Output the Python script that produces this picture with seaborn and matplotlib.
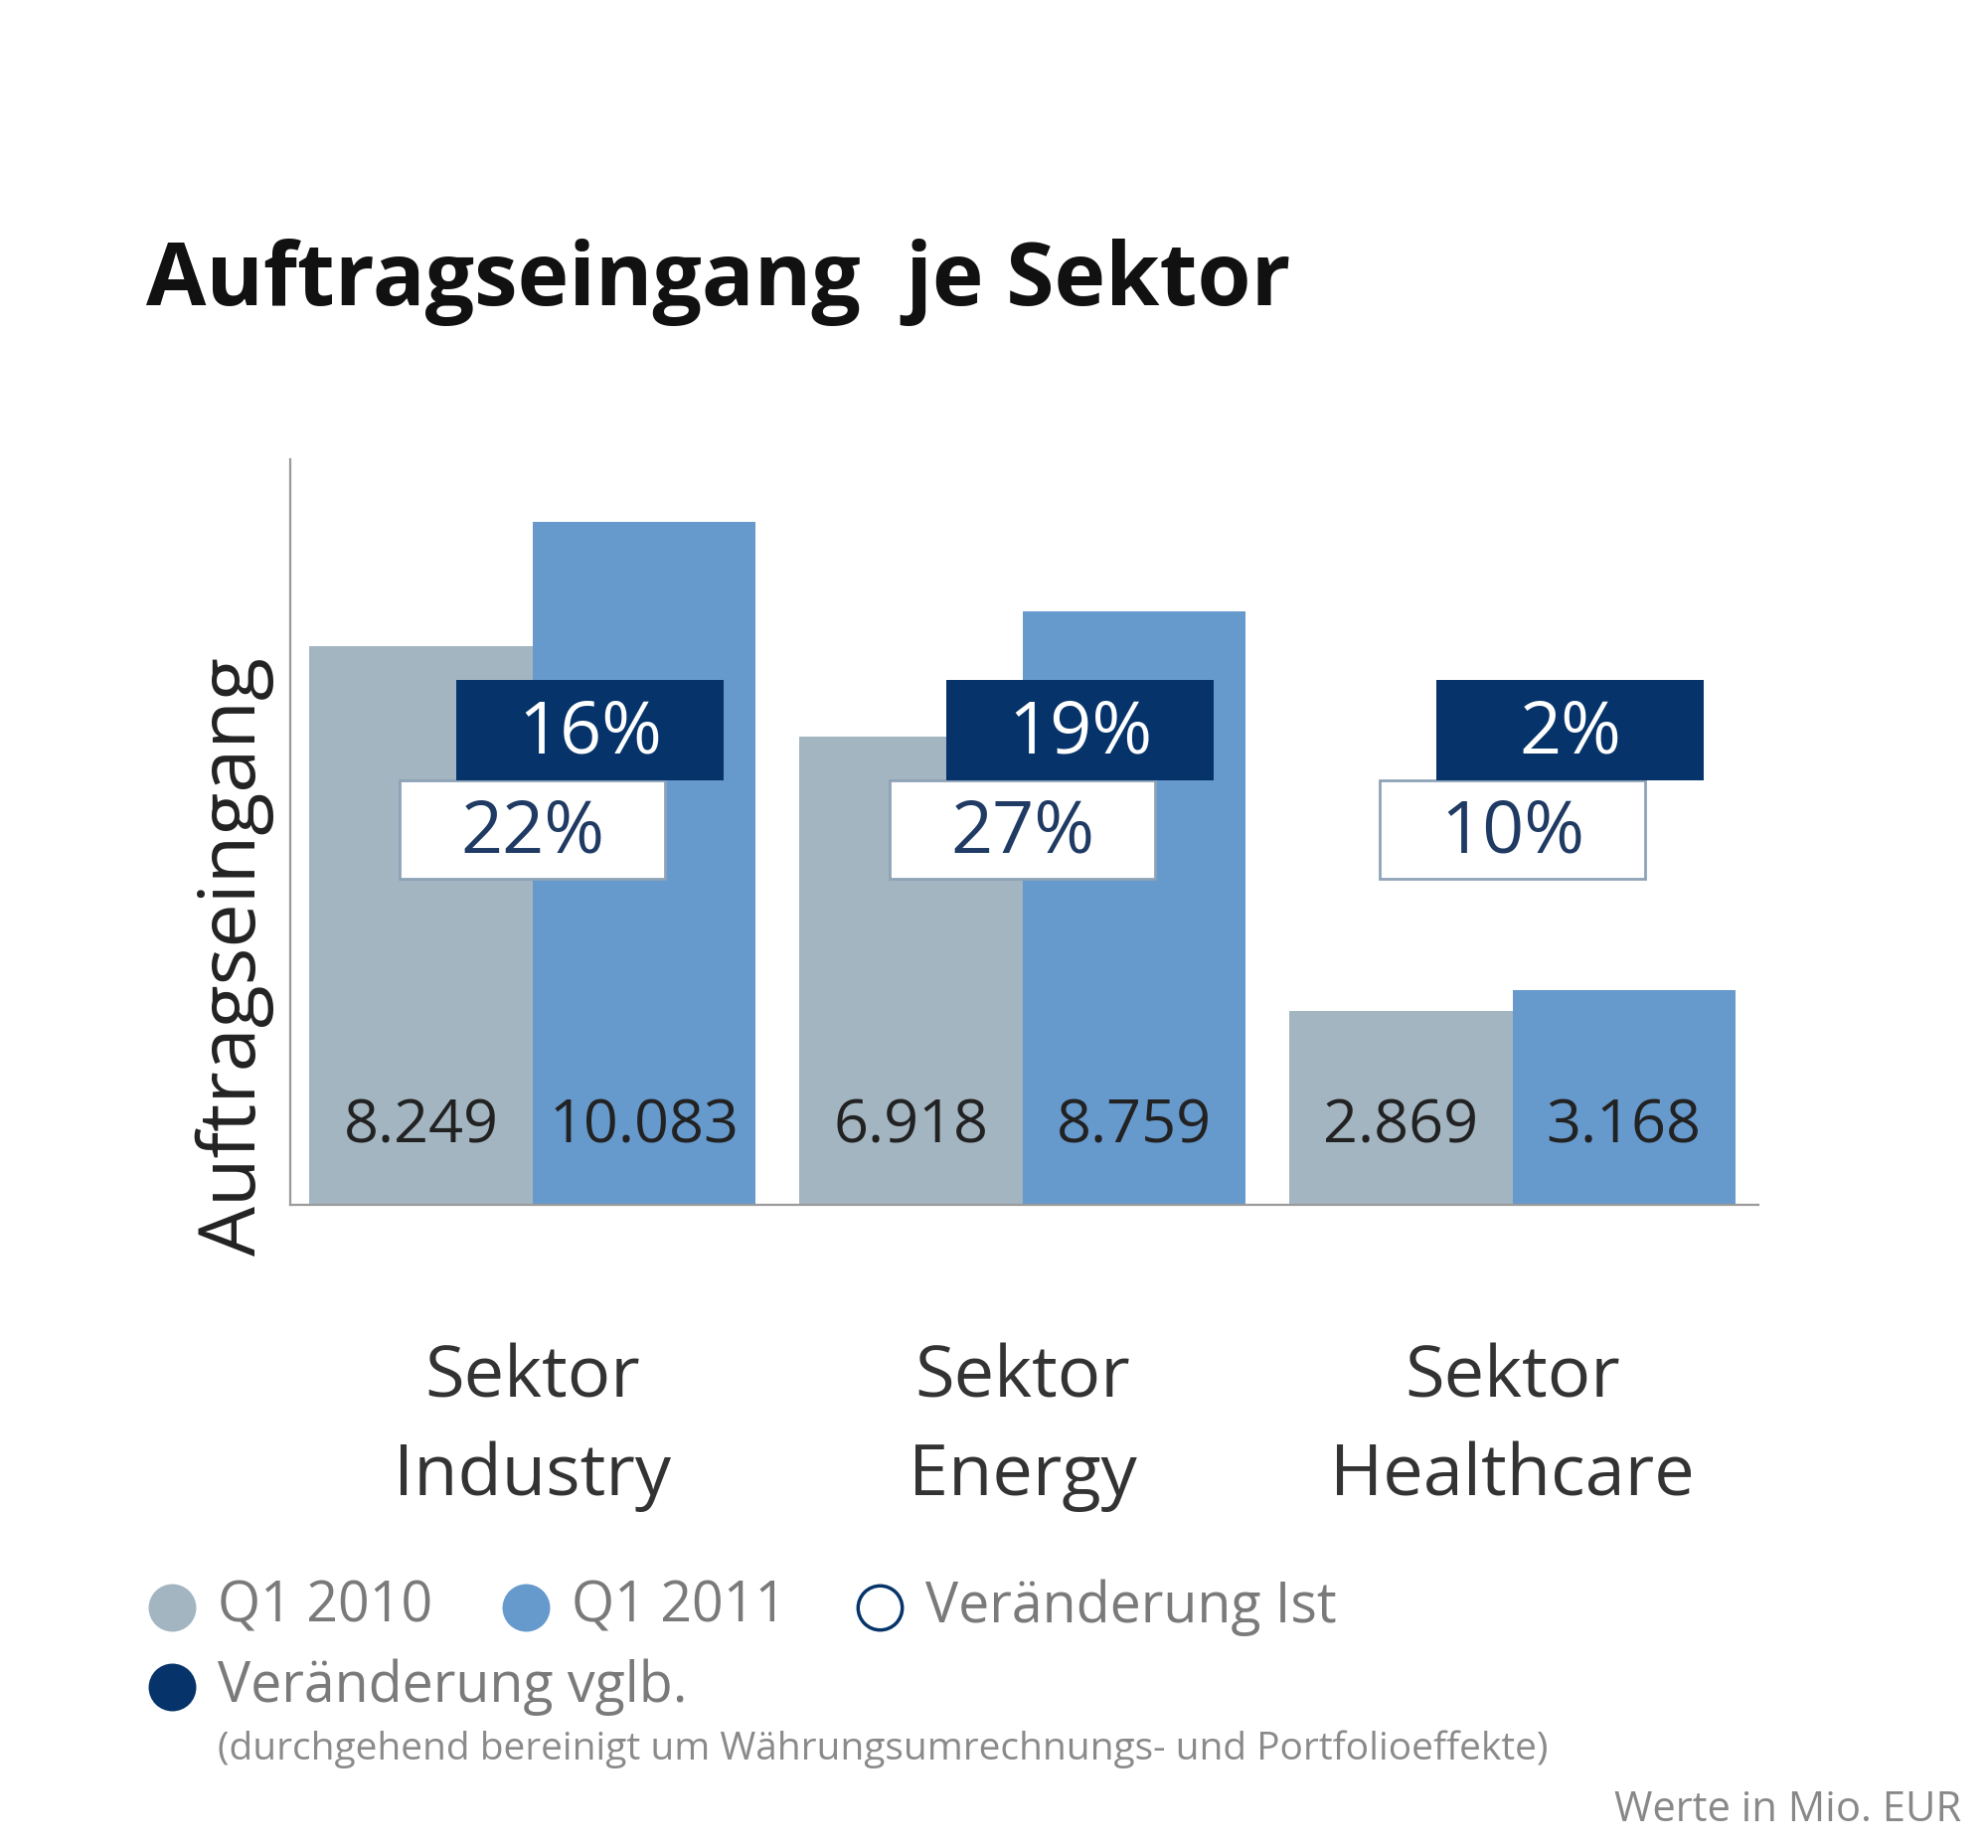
import numpy as np
import pandas as pd
import matplotlib.pyplot as plt
from matplotlib.lines import Line2D
import seaborn as sns

# Daten (Werte in Mio. EUR)
sectors = ['Sektor\nIndustry', 'Sektor\nEnergy', 'Sektor\nHealthcare']
periods = ['Q1 2010', 'Q1 2011']
q1_2010 = [8249, 6918, 2869]
q1_2011 = [10083, 8759, 3168]
change_ist = ['22%', '27%', '10%']
change_vglb = ['16%', '19%', '2%']

c_2010 = '#a3b5c1'
c_2011 = '#6699cc'
c_dark = '#06346a'

df = pd.DataFrame({
    'Sektor': sectors * 2,
    'Periode': [periods[0]] * 3 + [periods[1]] * 3,
    'Wert': q1_2010 + q1_2011,
})

sns.set_style('white')
plt.rcParams['font.family'] = ['Open Sans', 'DejaVu Sans']

fig = plt.figure(figsize=[20, 18.59], dpi=100)
ax = fig.add_axes([0.146, 0.348, 0.7385, 0.4035])

sns.barplot(data=df, x='Sektor', y='Wert', hue='Periode', ax=ax,
            palette=[c_2010, c_2011], width=0.91, saturation=1,
            linewidth=0, legend=False, errorbar=None)

# Wertbeschriftungen in den Balken
for container, vals in zip(ax.containers, [q1_2010, q1_2011]):
    for bar, v in zip(container, vals):
        ax.text(bar.get_x() + bar.get_width() / 2, 1150,
                f'{v:,}'.replace(',', '.'), ha='center', va='center',
                fontsize=44, color='#222222', zorder=5)

# Prozent-Kästen
pos = np.arange(len(sectors))
ax.bar(pos, 1460, bottom=4813, width=0.54, color='white',
       edgecolor='#8fa3b8', linewidth=2, zorder=3)
ax.bar(pos + 0.118, 1480, bottom=6273, width=0.546, color=c_dark,
       linewidth=0, zorder=4)
for p, a, b in zip(pos, change_ist, change_vglb):
    ax.text(p, 5480, a, ha='center', va='center', fontsize=53,
            color='#1f3a63', zorder=5)
    ax.text(p + 0.118, 6950, b, ha='center', va='center', fontsize=53,
            color='white', zorder=5)

ax.set_xlim(-0.494, 2.502)
ax.set_ylim(0, 11010)
ax.set_xlabel('')
ax.set_ylabel('')
ax.set_yticks([])
ax.tick_params(axis='x', length=0, pad=100, labelsize=52, labelcolor='#333333')
for t in ax.get_xticklabels():
    t.set_linespacing(1.5)
for s in ['top', 'right']:
    ax.spines[s].set_visible(False)
for s in ['left', 'bottom']:
    ax.spines[s].set_color('#9a9a9a')
    ax.spines[s].set_linewidth(1.6)

fig.text(0.118, 0.3206, 'Auftragseingang', rotation=90, ha='center',
         va='bottom', fontsize=57, color='#222222')

fig.text(0.0735, 0.835, 'Auftragseingang  je Sektor', ha='left',
         va='baseline', fontsize=63, fontweight='bold', color='#111111')

# Legende (manuell)
legend_items = [
    (0.0865, 0.1302, c_2010, c_2010, 'Q1 2010'),
    (0.2645, 0.1302, c_2011, c_2011, 'Q1 2011'),
    (0.4425, 0.1302, 'white', c_dark, 'Veränderung Ist'),
    (0.0865, 0.0871, c_dark, c_dark, 'Veränderung vglb.'),
]
for x, y, fc, ec, label in legend_items:
    fig.add_artist(Line2D([x], [y], marker='o', markersize=32,
                          markerfacecolor=fc, markeredgecolor=ec,
                          markeredgewidth=2.5, linestyle='none',
                          transform=fig.transFigure))
    fig.text(x + 0.023, y, label, ha='left', va='center', fontsize=40,
             color='#7a7a7a')

fig.text(0.1095, 0.0533,
         '(durchgehend bereinigt um Währungsumrechnungs- und Portfolioeffekte)',
         ha='left', va='center', fontsize=28, color='#8a8a8a')
fig.text(0.9865, 0.0204, 'Werte in Mio. EUR', ha='right', va='center',
         fontsize=30, color='#888888')

plt.savefig('out.png', dpi=100)
